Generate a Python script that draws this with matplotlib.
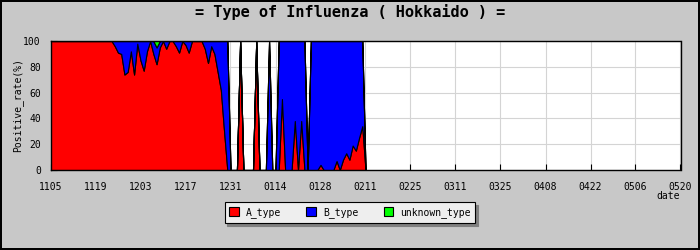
# Share of influenza types among positive samples, Hokkaido, day by day
# from 5 Nov to 20 May. Stacked percentage areas with gaps where no samples.
import matplotlib
matplotlib.use("Agg")
import matplotlib.pyplot as plt
import numpy as np
from matplotlib.patches import Patch

# day 0 = 11/05, one value per day up to 02/11 (day 98)
a_type = [
    100, 100, 100, 100, 100, 100, 100, 100, 100, 100,
    100, 100, 100, 100, 100, 100, 100, 100, 100, 100,
    96, 91, 90, 74, 76, 92, 74, 98, 85, 77,
    92, 100, 90, 82, 95, 100, 94, 100, 100, 96,
    91, 100, 97, 91, 100, 100, 100, 100, 94, 83,
    96, 90, 76, 62, 30, 0, 0, 0, 0, 100,
    0, 0, 0, 0, 100, 0, 0, 0, 0, 0,
    0, 0, 55, 0, 0, 0, 38, 0, 38, 0,
    0, 0, 0, 0, 4, 0, 0, 0, 0, 7,
    0, 8, 13, 8, 19, 15, 25, 34, 0,
]
b_type = [
    0, 0, 0, 0, 0, 0, 0, 0, 0, 0,
    0, 0, 0, 0, 0, 0, 0, 0, 0, 0,
    4, 9, 10, 26, 24, 8, 26, 2, 15, 23,
    8, 0, 10, 13, 5, 0, 6, 0, 0, 4,
    9, 0, 3, 9, 0, 0, 0, 0, 6, 17,
    4, 10, 24, 38, 70, 100, 0, 0, 0, 0,
    0, 0, 0, 0, 0, 0, 0, 0, 100, 0,
    0, 100, 45, 100, 100, 100, 62, 100, 62, 100,
    0, 100, 100, 100, 96, 100, 100, 100, 100, 93,
    100, 92, 87, 92, 81, 85, 75, 66, 0,
]
unknown_type = [0] * 33 + [5] + [0] * 65

tick_days = [0, 14, 28, 42, 56, 70, 84, 98, 112, 126, 140, 154, 168, 182, 196]
tick_labels = ["1105", "1119", "1203", "1217", "1231", "0114", "0128", "0211",
               "0225", "0311", "0325", "0408", "0422", "0506", "0520"]

RED, BLUE, GREEN = "#ff0000", "#0000ff", "#00ff00"
BG = "#c8c8c8"
MONO = "DejaVu Sans Mono"

days = np.arange(len(a_type))
a = np.array(a_type, float)
b = np.array(b_type, float)
u = np.array(unknown_type, float)

fig = plt.figure(figsize=(7, 2.5), dpi=100, facecolor=BG)
fig.patch.set_edgecolor("black")
fig.patch.set_linewidth(1.5)
ax = fig.add_axes([50.5 / 700, 80 / 250, 630 / 700, 129 / 250])
ax.set_facecolor("white")

ax.fill_between(days, 0, a, facecolor=RED, edgecolor="black", lw=0.8,
                antialiased=False, zorder=3)
ax.fill_between(days, a, a + b, facecolor=BLUE, edgecolor="black", lw=0.8,
                antialiased=False, zorder=3)
ax.fill_between(days, a + b, a + b + u, facecolor=GREEN, edgecolor="black", lw=0.8,
                antialiased=False, zorder=3)

ax.set_xlim(0, 196)
ax.set_ylim(0, 100)
ax.set_xticks(tick_days)
ax.set_xticklabels(tick_labels, fontsize=7, family=MONO)
ax.set_yticks([0, 20, 40, 60, 80, 100])
ax.set_yticklabels(["0", "20", "40", "60", "80", "100"], fontsize=7, family=MONO)
ax.set_yticks([10, 30, 50, 70, 90], minor=True)
ax.tick_params(axis="x", direction="in", length=4, width=0.8, pad=9)
ax.tick_params(axis="y", which="major", direction="in", length=4, width=0.8, pad=7)
ax.tick_params(axis="y", which="minor", direction="in", length=3, width=0.8)
ax.grid(True, color="#d4d4d4", linewidth=0.8, zorder=0)
ax.set_axisbelow(True)
for sp in ax.spines.values():
    sp.set_linewidth(1.0)
    sp.set_zorder(5)
ax.set_ylabel("Positive_rate(%)", fontsize=7, family=MONO, labelpad=0)

fig.text(0.5, 1 - 12.5 / 250, "= Type of Influenza ( Hokkaido ) =", ha="center",
         va="center", fontsize=11, fontweight="bold", family=MONO)
fig.text(680 / 700, 1 - 196 / 250, "date", ha="right", va="center",
         fontsize=7, family=MONO)

handles = [Patch(facecolor=c, edgecolor="black", lw=0.8) for c in (RED, BLUE, GREEN)]
leg = fig.legend(handles, ["A_type", "B_type", "unknown_type"], ncol=3,
                 loc="center", bbox_to_anchor=(350 / 700, 1 - 212.5 / 250),
                 prop={"family": MONO, "size": 7}, frameon=True, fancybox=False,
                 shadow={"color": "#808080", "alpha": 1}, handlelength=1.0,
                 handleheight=1.0, handletextpad=0.7, columnspacing=2.6,
                 borderpad=0.5)
leg.get_frame().set_facecolor("#eeeeee")
leg.get_frame().set_edgecolor("black")
leg.get_frame().set_linewidth(0.8)
leg.get_frame().set_alpha(1)

fig.savefig("out.png", dpi=100, facecolor=BG, edgecolor="black")
